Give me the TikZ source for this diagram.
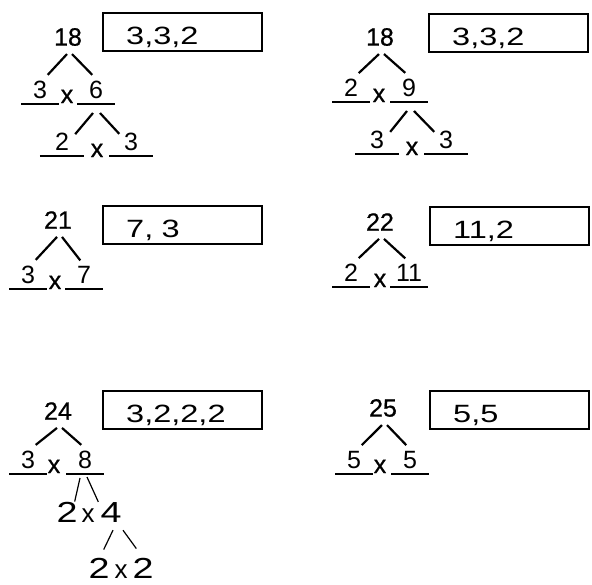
\documentclass[tikz,border=0pt]{standalone}
\usepackage{fontspec}
\setmainfont{Liberation Sans}
\newfontfamily\printfont[FakeBold=0.8]{Liberation Sans}
\newfontfamily\handfont[FakeStretch=1.3]{Liberation Sans}
\usetikzlibrary{positioning,calc}

\begin{document}
\begin{tikzpicture}[x=1pt,y=-1pt,
  num/.style={font=\printfont\fontsize{25}{30}\selectfont,inner xsep=1pt,inner ysep=8pt},
  blank/.style={font=\fontsize{25}{30}\selectfont,anchor=south,minimum width=37pt,inner xsep=0pt,inner ysep=5.5pt,
    append after command={(\tikzlastnode.south west) edge[line width=1.6pt] (\tikzlastnode.south east)}},
  times/.style={font=\printfont\fontsize{25}{30}\selectfont,anchor=base,inner sep=0pt},
  hand/.style={font=\handfont\fontsize{29}{34}\selectfont,anchor=base,inner sep=0pt},
  handtimes/.style={font=\fontsize{26}{30}\selectfont,anchor=base,inner sep=0pt},
  answer/.style={draw,line width=2.4pt,anchor=north west,minimum width=159pt,minimum height=38pt,
    text width=113pt,inner xsep=23pt,text height=25pt,text depth=0pt,align=left,
    font=\handfont\fontsize{25}{30}\selectfont},
  branch/.style={line width=2.2pt},
  thinbranch/.style={line width=1.2pt}
]
\useasboundingbox (0,0) rectangle (592,584);

\node[num] (a18) at (68,37) {18};
\node[answer] (abox) at (102,12) {3,3,2};
\node[blank] (a3) at (40,104) {3};
\node[times] (ax) at (67,103) {x};
\node[blank] (a6) at (96,104) {6};
\node[blank,minimum width=44pt] (a2) at (62,156) {2};
\node[times] (axx) at (97,157) {x};
\node[blank,minimum width=43pt] (a3b) at (131,156) {3};
\draw[branch] ([xshift=-1pt]a18.south) -- ([xshift=-11pt]a3.north east);
\draw[branch] ([xshift=4pt]a18.south) -- ([xshift=15pt]a6.north west);
\draw[branch] ([shift={(-3pt,-9pt)}]a6.south) -- ([shift={(-9pt,-7pt)}]a2.north east);
\draw[branch] ([shift={(4pt,-9pt)}]a6.south) -- ([shift={(10pt,-7pt)}]a3b.north west);

\node[num] (b18) at (380,37) {18};
\node[answer] (bbox) at (428,13) {3,3,2};
\node[blank] (b2) at (351,102) {2};
\node[times] (bx) at (379,102) {x};
\node[blank] (b9) at (409,102) {9};
\node[blank,minimum width=44pt] (b3) at (377,154) {3};
\node[times] (bxx) at (412,155) {x};
\node[blank,minimum width=43pt] (b3b) at (446,154) {3};
\draw[branch] ([xshift=-1pt]b18.south) -- ([xshift=-11pt]b2.north east);
\draw[branch] ([xshift=4pt]b18.south) -- ([xshift=15pt]b9.north west);
\draw[branch] ([shift={(-2pt,-9pt)}]b9.south) -- ([shift={(-9pt,-7pt)}]b3.north east);
\draw[branch] ([shift={(5pt,-9pt)}]b9.south) -- ([shift={(10pt,-7pt)}]b3b.north west);

\node[num] (c21) at (58,220) {21};
\node[answer] (cbox) at (102,205) {7, 3};
\node[blank] (c3) at (28,289) {3};
\node[times] (cx) at (55,289) {x};
\node[blank] (c7) at (84,289) {7};
\draw[branch] ([xshift=-1pt]c21.south) -- ([xshift=-11pt]c3.north east);
\draw[branch] ([xshift=4pt]c21.south) -- ([xshift=15pt]c7.north west);

\node[num] (d22) at (380,222) {22};
\node[answer] (dbox) at (429,206) {11,2};
\node[blank] (d2) at (351,287) {2};
\node[times] (dx) at (380,287) {x};
\node[blank] (d11) at (409,287) {11};
\draw[branch] ([xshift=-1pt]d22.south) -- ([xshift=-11pt]d2.north east);
\draw[branch] ([xshift=4pt]d22.south) -- ([xshift=15pt]d11.north west);

\node[num] (e24) at (58,411) {24};
\node[answer] (ebox) at (102,390) {3,2,2,2};
\node[blank] (e3) at (28,474) {3};
\node[times] (ex) at (54,473) {x};
\node[blank] (e8) at (85,474) {8};
\node[hand] (e2) at (67,522) {2};
\node[handtimes] (exx) at (88,522) {x};
\node[hand] (e4) at (111,522) {4};
\node[hand] (e2b) at (99,578) {2};
\node[handtimes] (exxx) at (121,578) {x};
\node[hand] (e2c) at (143,578) {2};
\draw[branch] ([xshift=-1pt]e24.south) -- ([xshift=-11pt]e3.north east);
\draw[branch] ([xshift=4pt]e24.south) -- ([xshift=15pt]e8.north west);
\draw[thinbranch] ([shift={(-5pt,-4pt)}]e8.south) -- ([xshift=-3pt]e2.north east);
\draw[thinbranch] ([shift={(2pt,-3pt)}]e8.south) -- ([xshift=-2pt]e4.north west);
\draw[thinbranch] ([shift={(2pt,-8pt)}]e4.south) -- ([shift={(-6pt,8pt)}]e2b.north east);
\draw[thinbranch] ([shift={(12pt,-8pt)}]e4.south) -- ([shift={(4pt,9pt)}]e2c.north west);

\node[num] (f25) at (383,408) {25};
\node[answer] (fbox) at (429,390) {5,5};
\node[blank] (f5) at (354,474) {5};
\node[times] (fx) at (380,473) {x};
\node[blank] (f5b) at (410,474) {5};
\draw[branch] ([xshift=-1pt]f25.south) -- ([xshift=-11pt]f5.north east);
\draw[branch] ([xshift=4pt]f25.south) -- ([xshift=15pt]f5b.north west);
\end{tikzpicture}
\end{document}
